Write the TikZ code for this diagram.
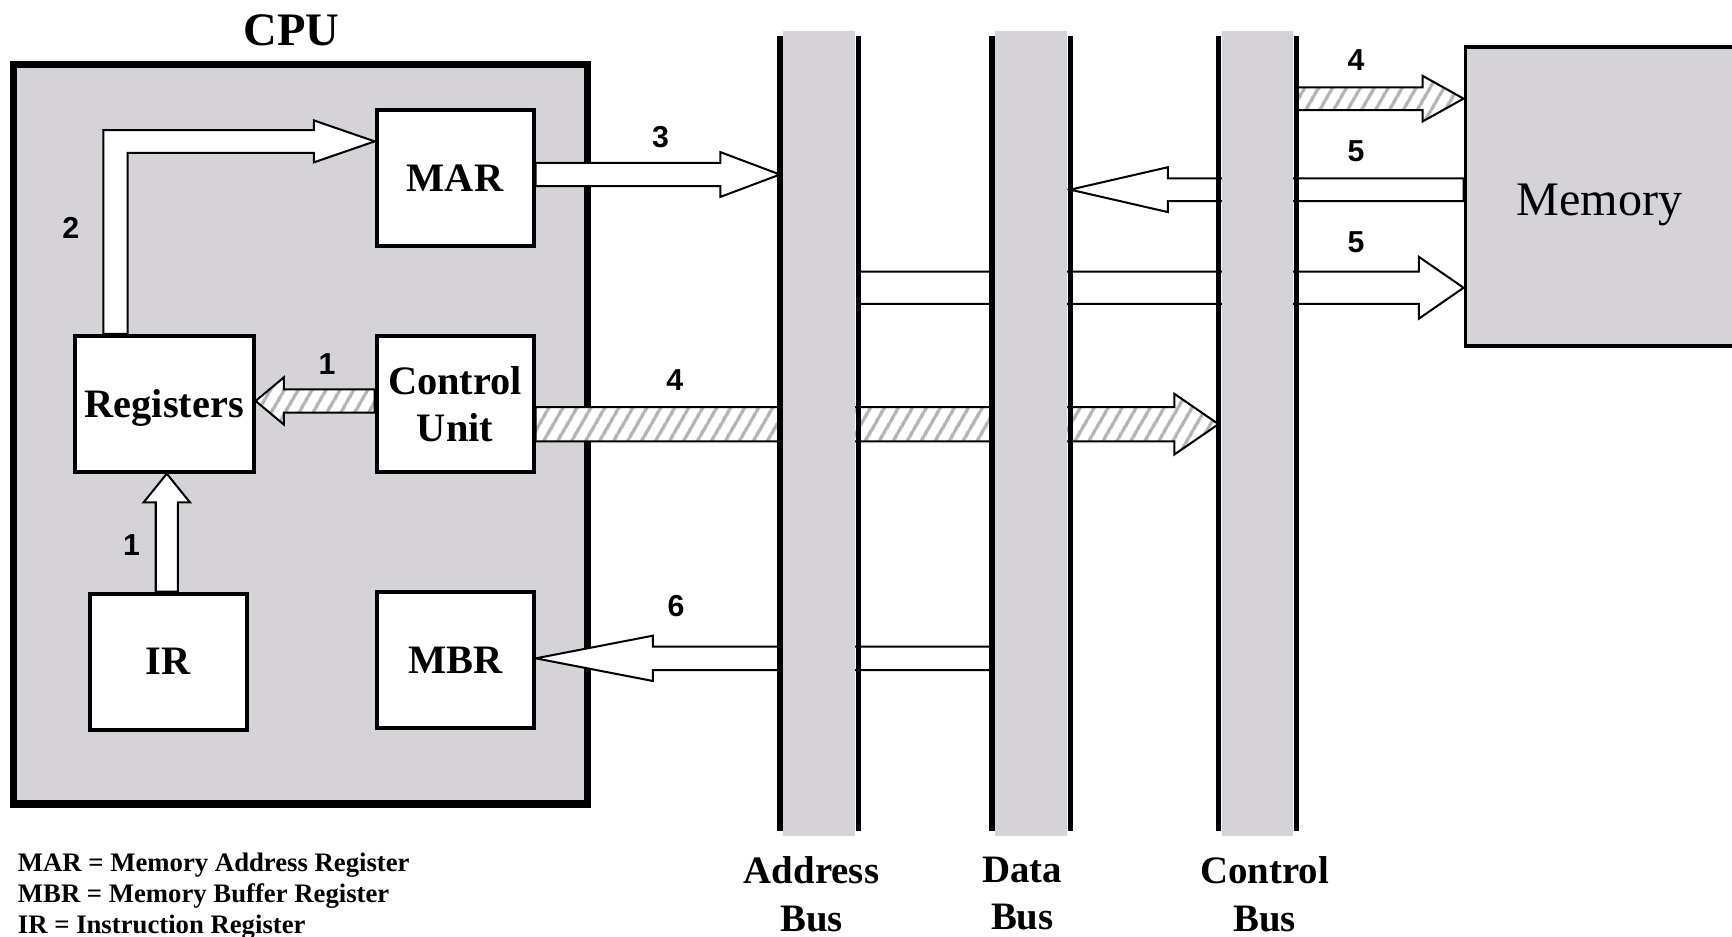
\documentclass[tikz,border=0pt]{standalone}
\usepackage{fontspec}
\setmainfont{Liberation Serif}
\newfontfamily\digitfont{Liberation Sans}
\usepackage{tikz}
\usetikzlibrary{calc, patterns.meta}
\definecolor{busgray}{RGB}{213,211,216}
\newlength\px
\setlength\px{0.025cm}
\pgfdeclarelayer{front}
\pgfsetlayers{main,front}
\newcommand\fatarrow[6][hollow]{%
  \draw[#1] ($(#2)+(0,-#4)$) -- ($(#3)+(#6,-#4)$) -- ($(#3)+(#6,-#5)$) -- (#3)
    -- ($(#3)+(#6,#5)$) -- ($(#3)+(#6,#4)$) -- ($(#2)+(0,#4)$) -- cycle;}

\begin{document}
\begin{tikzpicture}[
  x=0.025cm, y=-0.025cm,
  regbox/.style={rectangle, draw=black, line width=2.6pt, fill=white, minimum width=142\px, minimum height=123\px, align=center, text depth=0pt, font=\fontsize{26}{30}\selectfont\bfseries},
  cpubox/.style={rectangle, draw=black, line width=4.8pt, fill=busgray, minimum width=520\px, minimum height=669.5\px},
  membox/.style={rectangle, draw=black, line width=2.4pt, fill=busgray, minimum width=300\px, minimum height=271\px, anchor=west},
  bus/.style={rectangle, fill=busgray, minimum width=65\px, minimum height=729\px, inner sep=0pt},
  busline/.style={line width=3.4pt},
  hollow/.style={draw=black, fill=white, line width=1.3pt, line join=miter},
  hatched/.style={draw=black, line width=1.3pt, line join=miter, preaction={fill=white}, pattern={Lines[angle=60, distance=7.4pt, line width=2.2pt]}, pattern color=black!30},
  num/.style={font=\digitfont\fontsize{19.5}{22}\selectfont\bfseries, inner sep=0pt},
  buslabel/.style={anchor=north, align=center, inner sep=0pt, font=\fontsize{25}{30.6}\selectfont\bfseries}
]
\useasboundingbox (0,0) rectangle (1568,848);
\node[cpubox] (cpu) at (272,393.25) {};
\node[anchor=base, font=\fontsize{30}{34}\selectfont\bfseries] (cputitle) at (264,41) {CPU};

\begin{pgfonlayer}{front}
\node[regbox] (mar) at (412,161) {MAR};
\node[regbox] (cu) at (412,365.5) {Control\\Unit};
\node[regbox, minimum width=162\px] (reg) at (148.6,365.5) {Registers};
\node[regbox] (ir) at (152.3,599) {IR};
\node[regbox] (mbr) at (412.2,597.5) {MBR};
\node[membox] (mem) at (1325,177.9) {};
\node[anchor=base, font=\fontsize{31}{36}\selectfont] (memtext) at (1448,195) {Memory};
\node[bus] (abus) at (741.5,392.5) {};
\node[bus] (dbus) at (933.5,392.5) {};
\node[bus] (cbus) at (1138.5,392.5) {};
\foreach \b in {abus,dbus,cbus} {
  \draw[busline] ([xshift=-2.6\px,yshift=-5\px]\b.north west) coordinate (\b-l) -- ([xshift=-2.6\px,yshift=5\px]\b.south west);
  \draw[busline] ([xshift=2.6\px,yshift=-5\px]\b.north east) coordinate (\b-r) -- ([xshift=2.6\px,yshift=5\px]\b.south east);
}
\end{pgfonlayer}

\coordinate (t2) at (mar.west |- 0,128);
\draw[hollow] ($(reg.north -| 104.5,0)+(-11,0)$) -- ($(t2 -| 104.5,0)+(-11,-10.3)$) -- ($(t2)+(-55,-10.3)$) -- ($(t2)+(-55,-19)$) -- (t2)
  -- ($(t2)+(-55,19)$) -- ($(t2)+(-55,10.3)$) -- ($(t2 -| 104.5,0)+(11,10.3)$) -- ($(reg.north -| 104.5,0)+(11,0)$) -- cycle;
\coordinate (t1) at (reg.south -| 151,0);
\draw[hollow] ($(ir.north -| t1)+(-10,0)$) -- ($(t1)+(-10,26)$) -- ($(t1)+(-21,26)$) -- (t1)
  -- ($(t1)+(21,26)$) -- ($(t1)+(10,26)$) -- ($(ir.north -| t1)+(10,0)$) -- cycle;
\fatarrow[hatched]{cu.west |- 0,363}{reg.east |- 0,363}{10.5}{21.4}{25.6}
\fatarrow{mar.east |- 0,158}{abus-l |- 0,158}{10.5}{20.3}{-54}
\fatarrow[hatched]{cu.east |- 0,384}{cbus-l |- 0,384}{15.5}{27.5}{-40}
\fatarrow{dbus-l |- 0,596}{mbr.east |- 0,596}{10.6}{20.5}{106}
\fatarrow[hatched]{cbus-r |- 0,89.3}{mem.west |- 0,89.3}{10.3}{20.6}{-37}
\fatarrow{mem.west |- 0,171.7}{dbus-r |- 0,171.7}{10.3}{20.3}{88.4}
\fatarrow{abus-r |- 0,260.5}{mem.west |- 0,260.5}{14.5}{28}{-40.5}

\node[num] (n2) at (64,206.7) {2};
\node[num] (n1a) at (296,330) {1};
\node[num] (n1b) at (119,493.4) {1};
\node[num] (n3) at (598,123.7) {3};
\node[num] (n4a) at (611,344) {4};
\node[num] (n6) at (612,549) {6};
\node[num] (n4b) at (1227.6,54) {4};
\node[num] (n5a) at (1227.6,137) {5};
\node[num] (n5b) at (1227.6,219) {5};

\node[buslabel] (alabel) at (734.7,775.5) {Address\\Bus};
\node[buslabel] (dlabel) at (925.5,775.5) {Data\\Bus};
\node[buslabel] (clabel) at (1145,775.5) {Control\\Bus};
\node[anchor=north west, align=left, inner sep=0pt, font=\fontsize{17.2}{20.1}\selectfont\bfseries] (key) at (16,771.5) {MAR = Memory Address Register\\MBR = Memory Buffer Register\\IR = Instruction Register};
\end{tikzpicture}
\end{document}
